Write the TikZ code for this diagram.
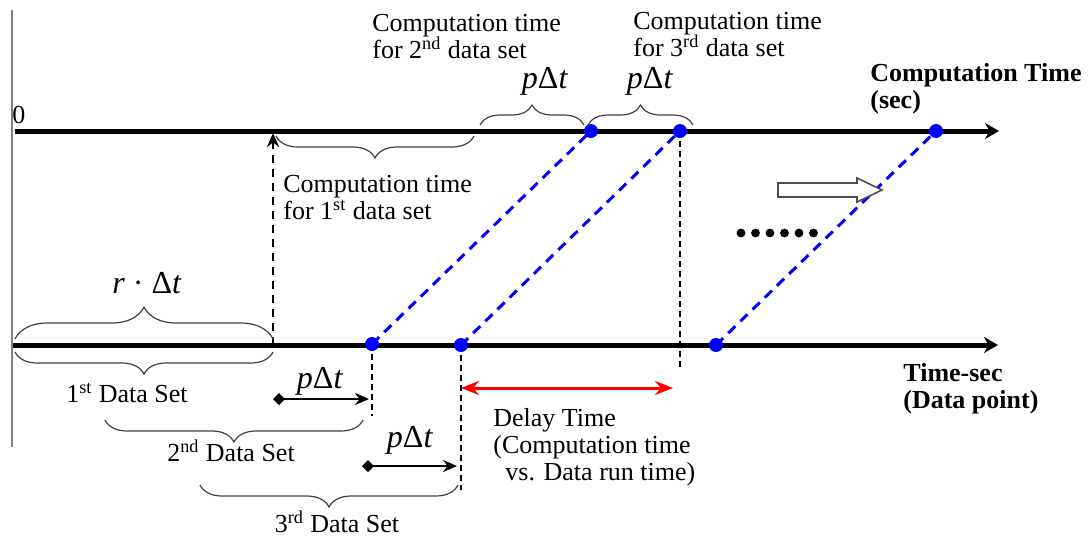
\documentclass[tikz,border=0pt]{standalone}
\usepackage{fontspec}
\setmainfont{Liberation Serif}
\usepackage{tikz}
\usetikzlibrary{arrows.meta,decorations.pathreplacing}
\newcommand\pDt{\textit{p}Δ\textit{t}}
\tikzset{
  axis/.style={line width=2.5pt,-{Stealth[length=7pt,width=8pt]}},
  brc/.style={decorate,decoration={brace,amplitude=#1},line width=0.6pt,black!75},
  brc/.default=11pt,
  bdash/.style={blue,line width=1.5pt,dash pattern=on 5pt off 3.5pt},
  vdash/.style={line width=0.7pt,dash pattern=on 3pt off 2pt},
  lbl/.style={font=\fontsize{13}{13.5}\selectfont,inner sep=0pt,align=left},
  blbl/.style={lbl,font=\fontsize{13}{13.5}\selectfont\bfseries},
  pdt/.style={font=\fontsize{16}{18}\selectfont,inner sep=0pt},
  tick/.style={line width=1.2pt,{Diamond[length=6pt,width=6pt]}-{Stealth[length=7pt,width=6pt]}}
}
\begin{document}
\begin{tikzpicture}[x=0.5pt,y=-0.5pt]
\useasboundingbox (0,0) rectangle (1088,537);
\draw[gray,line width=0.8pt](12,10)--(12,447);
\coordinate (o1) at (15,131); \coordinate (e1) at (999,131);
\coordinate (o2) at (13,345); \coordinate (e2) at (998,345);
\draw[axis](o1)--(e1);
\draw[axis](o2)--(e2);
\node[lbl,anchor=base west](zero) at (12,123){0};
\coordinate (t1) at (591,131); \coordinate (t2) at (680,131); \coordinate (t3) at (936,131);
\coordinate (d1) at (372,344); \coordinate (d2) at (461,345); \coordinate (d3) at (716,345);
\coordinate (f1) at (372,416); \coordinate (f2) at (461,490); \coordinate (f3) at (680,370);
\coordinate (k0) at (273,345); \coordinate (k1) at (273,133);
\draw[bdash](d1)--(t1);
\draw[bdash](d2)--(t2);
\draw[bdash](d3)--(t3);
\draw[vdash](d1)--(f1);
\draw[vdash](d2)--(f2);
\draw[vdash](t2)--(f3);
\draw[line width=1pt,dash pattern=on 4pt off 3pt,-{Stealth[length=7pt,width=6pt]}](k0)--(k1);
\foreach \p in {t1,t2,t3,d1,d2,d3} \fill[blue](\p)circle(3.5pt);
\draw[brc](474,136)--(276,136);
\draw[brc=10pt](480,125)--(584,125);
\draw[brc=10pt](588,125)--(693,125);
\draw[brc=16pt](15,339)--(273,339);
\draw[brc](273,352)--(15,352);
\draw[brc](363,420)--(105,420);
\draw[brc](458,485)--(200,485);
\coordinate (a1) at (273,399); \coordinate (b1) at (369,399);
\coordinate (a2) at (362,466); \coordinate (b2) at (457,466);
\coordinate (r1) at (461,388); \coordinate (r2) at (673,388);
\draw[tick](a1)--(b1);
\draw[tick](a2)--(b2);
\draw[red,line width=1.5pt,{Stealth[length=9pt,width=7pt]}-{Stealth[length=9pt,width=7pt]}](r1)--(r2);
\draw[line width=0.8pt,black!70,fill=white](778,183)--(857,183)--(857,178)--(882,190)--(857,202)--(857,197)--(778,197)--cycle;
\foreach \i in {0,...,5} \fill(741+\i*14.5,233)circle(2.2pt);
\node[lbl,anchor=base west](ct2) at (372,58){Computation time\\for 2\textsuperscript{nd} data set};
\node[lbl,anchor=base west](ct3) at (633,56){Computation time\\for 3\textsuperscript{rd} data set};
\node[lbl,anchor=base west](ct1) at (283,219){Computation time\\for 1\textsuperscript{st} data set};
\node[blbl,anchor=base west](ctax) at (870,108){Computation Time\\(sec)};
\node[blbl,anchor=base west](tsax) at (903,408){Time-sec\\(Data point)};
\node[lbl,anchor=base west](delay) at (493,480){Delay Time\\(Computation time\\\hspace*{6pt}vs. Data run time)};
\node[pdt,anchor=base](p1) at (545,88){\pDt};
\node[pdt,anchor=base](p2) at (650,88){\pDt};
\node[pdt,anchor=base](p3) at (320,388){\pDt};
\node[pdt,anchor=base](p4) at (410,447){\pDt};
\node[pdt,anchor=base](rdt) at (147,293){\textit{r} · Δ\textit{t}};
\node[lbl,anchor=base](ds1) at (127,402){1\textsuperscript{st} Data Set};
\node[lbl,anchor=base](ds2) at (231,461){2\textsuperscript{nd} Data Set};
\node[lbl,anchor=base](ds3) at (337,532){3\textsuperscript{rd} Data Set};
\end{tikzpicture}
\end{document}
